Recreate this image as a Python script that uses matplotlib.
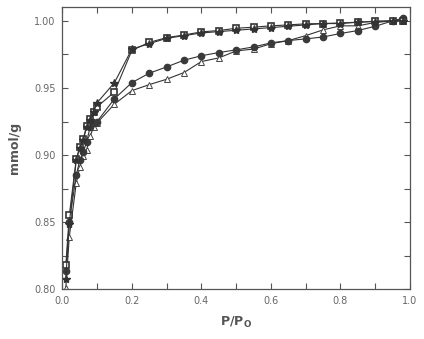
import matplotlib
matplotlib.use("Agg")
import matplotlib.pyplot as plt
from matplotlib.ticker import MultipleLocator, FormatStrFormatter

p_star = [0.01, 0.02, 0.04, 0.05, 0.06, 0.07, 0.08, 0.09, 0.10, 0.15, 0.20, 0.25, 0.30, 0.35, 0.40,
          0.45, 0.50, 0.55, 0.60, 0.65, 0.70, 0.75, 0.80, 0.85, 0.90, 0.95, 0.98]
v_star = [0.808, 0.849, 0.896, 0.905, 0.911, 0.921, 0.926, 0.932, 0.939, 0.954, 0.979, 0.983, 0.987,
          0.989, 0.991, 0.992, 0.993, 0.994, 0.995, 0.996, 0.997, 0.998, 0.998, 0.999, 0.9995, 1.000, 1.000]

p_square = [0.01, 0.02, 0.04, 0.05, 0.06, 0.07, 0.08, 0.09, 0.10, 0.15, 0.20, 0.25, 0.30, 0.35, 0.40,
            0.45, 0.50, 0.55, 0.60, 0.65, 0.70, 0.75, 0.80, 0.85, 0.90, 0.95, 0.98]
v_square = [0.818, 0.855, 0.897, 0.906, 0.912, 0.922, 0.927, 0.932, 0.936, 0.947, 0.978, 0.984, 0.9875,
            0.9895, 0.9918, 0.9928, 0.9945, 0.9953, 0.9963, 0.997, 0.9978, 0.998, 0.9985, 0.999, 0.9998, 1.000, 1.000]

p_circle = [0.01, 0.02, 0.04, 0.05, 0.06, 0.07, 0.08, 0.09, 0.10, 0.15, 0.20, 0.25, 0.30, 0.35, 0.40,
            0.45, 0.50, 0.55, 0.60, 0.65, 0.70, 0.75, 0.80, 0.85, 0.90, 0.95, 0.98]
v_circle = [0.814, 0.850, 0.885, 0.896, 0.902, 0.910, 0.921, 0.924, 0.925, 0.942, 0.954, 0.961, 0.9657,
            0.9707, 0.974, 0.9764, 0.9784, 0.9806, 0.9836, 0.9853, 0.9866, 0.988, 0.9906, 0.9928, 0.996, 1.000, 1.002]

p_tri = [0.01, 0.02, 0.04, 0.05, 0.06, 0.07, 0.08, 0.09, 0.10, 0.15, 0.20, 0.25, 0.30, 0.35, 0.40,
         0.45, 0.50, 0.55, 0.60, 0.65, 0.70, 0.75, 0.80, 0.85, 0.90, 0.95, 0.98]
v_tri = [0.801, 0.839, 0.879, 0.891, 0.899, 0.904, 0.914, 0.921, 0.924, 0.938, 0.948, 0.9525, 0.9565,
         0.9615, 0.9697, 0.9724, 0.9776, 0.979, 0.983, 0.9853, 0.989, 0.9933, 0.9963, 0.9963, 0.9988, 1.000, 1.000]

x_ticks = [0.0, 0.2, 0.4, 0.6, 0.8, 1.0]
y_ticks = [0.80, 0.85, 0.90, 0.95, 1.00]

dark = "#333333"
gray = "#555555"

fig = plt.figure(figsize=(4.24, 3.39), dpi=100)
ax = fig.add_axes([0.147, 0.1466, 0.820, 0.8334])

ax.plot(p_tri, v_tri, color=dark, lw=0.8, marker="^", ms=4.5, mfc="white", mec="#444444", mew=0.7)
ax.plot(p_circle, v_circle, color=dark, lw=0.8, marker="o", ms=4.5, mfc="#3a3a3a", mec="#3a3a3a")
ax.plot(p_square, v_square, color=dark, lw=0.8, marker="s", ms=4, mfc="white", mec="#333333", mew=1.2)
ax.plot(p_star, v_star, color=dark, lw=0.8, marker="*", ms=6, mfc="#333333", mec="#333333")

ax.set_xlim(0.0, 1.0)
ax.set_ylim(0.80, 1.0105)
ax.set_xticks(x_ticks)
ax.set_yticks(y_ticks)
ax.xaxis.set_major_formatter(FormatStrFormatter("%.1f"))
ax.yaxis.set_major_formatter(FormatStrFormatter("%.2f"))
ax.xaxis.set_minor_locator(MultipleLocator(0.1))
ax.yaxis.set_minor_locator(MultipleLocator(0.025))
ax.tick_params(which="both", direction="in", top=True, right=True, length=4, width=0.8,
               color=gray, labelsize=7, labelcolor="#666666", pad=5)
for s in ax.spines.values():
    s.set_color(gray)
    s.set_linewidth(0.9)

ax.set_xlabel("P/P$_\\mathbf{O}$", fontsize=9, fontweight="bold", color=gray, labelpad=6)
ax.set_ylabel("mmol/g", fontsize=9, fontweight="bold", color=gray, labelpad=9)

fig.savefig("out.png", dpi=100)
